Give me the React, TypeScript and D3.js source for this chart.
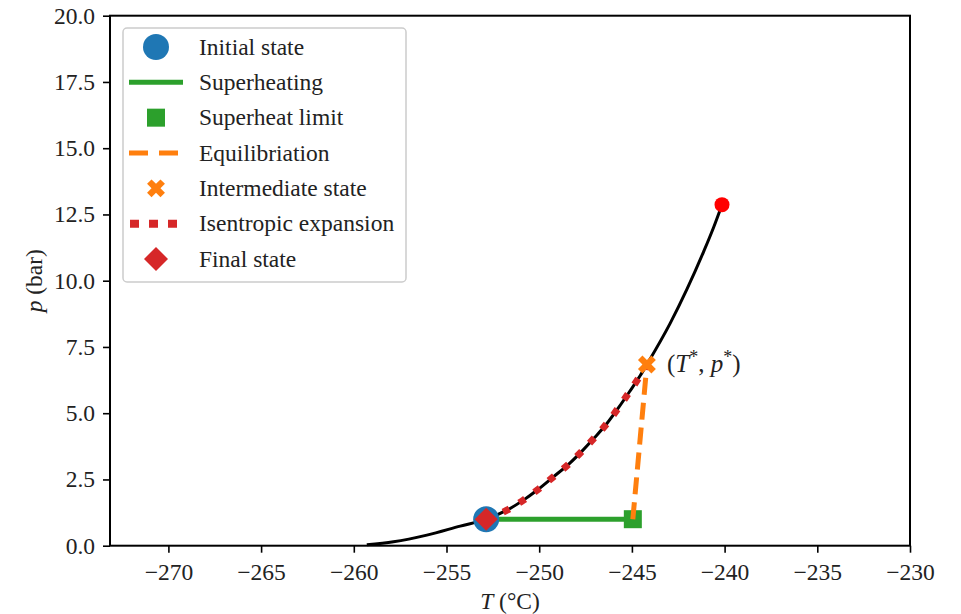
import React, { useEffect, useRef } from 'react';
import * as d3 from 'd3';

// saturation curve (T in °C, p in bar)
const curveT = [-259.3, -257.86, -256.06, -254.26, -252.86, -251.74, -250.85, -250.12, -249.23, -248.42, -247.69, -247.01, -246.35, -245.72, -245.14, -244.55, -244.19, -242.93, -242.03, -241.13, -240.59, -240.14];
const curveP = [0.04, 0.15, 0.4, 0.74, 1.0, 1.34, 1.72, 2.09, 2.6, 3.07, 3.57, 4.08, 4.61, 5.21, 5.8, 6.42, 6.84, 8.4, 9.68, 11.1, 12.02, 12.87];

const initialState = [-252.86, 1.0];
const superheatLimit = [-244.95, 1.0];
const intermediateState = [-244.19, 6.84];
const criticalPoint = [-240.14, 12.87];

const xTicks = [-270, -265, -260, -255, -250, -245, -240, -235, -230];
const yTicks = [0, 2.5, 5, 7.5, 10, 12.5, 15, 17.5, 20];

const legendLabels = ['Initial state', 'Superheating', 'Superheat limit', 'Equilibriation', 'Intermediate state', 'Isentropic expansion', 'Final state'];

const BLUE = '#1f77b4';
const GREEN = '#2ca02c';
const ORANGE = '#ff7f0e';
const RED = '#d62728';
const FONT = '"Liberation Serif", "Times New Roman", serif';

const diamond = (r: number) => `M0,${-r}L${r},0L0,${r}L${-r},0Z`;
const xMarker = d3.symbol().type(d3.symbolCross).size(200)();

const App = () => {
    const svgRef = useRef<SVGSVGElement>(null);

    useEffect(() => {
        const svg = d3.select(svgRef.current);
        svg.selectAll('*').remove();

        const left = 110, right = 910, top = 15.7, bottom = 545.7;
        const x = d3.scaleLinear().domain([-273.15, -230]).range([left, right]);
        const y = d3.scaleLinear().domain([0, 20]).range([bottom, top]);

        const pts = curveT.map((t, i) => [t, curveP[i]]);
        const line = d3.line<number[]>()
            .x(d => x(d[0]))
            .y(d => y(d[1]))
            .curve(d3.curveMonotoneX);

        // axes
        const xAxis = svg.append('g')
            .attr('transform', `translate(0, ${bottom})`)
            .call(d3.axisBottom(x).tickValues(xTicks).tickSize(7).tickSizeOuter(0).tickPadding(11).tickFormat(d3.format('.0f')));
        const yAxis = svg.append('g')
            .attr('transform', `translate(${left}, 0)`)
            .call(d3.axisLeft(y).tickValues(yTicks).tickSize(7).tickSizeOuter(0).tickPadding(8).tickFormat(d3.format('.1f')));
        [xAxis, yAxis].forEach(a => {
            a.select('.domain').remove();
            a.selectAll('line').attr('stroke', '#000').attr('stroke-width', 1.6);
            a.selectAll('text').attr('fill', '#222').style('font-family', FONT).style('font-size', '23.5px');
        });

        // black saturation curve
        svg.append('path')
            .attr('d', line(pts))
            .attr('fill', 'none')
            .attr('stroke', '#000')
            .attr('stroke-width', 3);

        svg.append('circle')
            .attr('cx', x(criticalPoint[0]))
            .attr('cy', y(criticalPoint[1]))
            .attr('r', 7.5)
            .attr('fill', '#ff0000');

        // superheating
        svg.append('line')
            .attr('x1', x(initialState[0])).attr('y1', y(initialState[1]))
            .attr('x2', x(superheatLimit[0])).attr('y2', y(superheatLimit[1]))
            .attr('stroke', GREEN).attr('stroke-width', 5);

        svg.append('rect')
            .attr('x', x(superheatLimit[0]) - 9).attr('y', y(superheatLimit[1]) - 9)
            .attr('width', 18).attr('height', 18)
            .attr('fill', GREEN);

        // equilibriation
        svg.append('line')
            .attr('x1', x(superheatLimit[0])).attr('y1', y(superheatLimit[1]))
            .attr('x2', x(intermediateState[0])).attr('y2', y(intermediateState[1]))
            .attr('stroke', ORANGE).attr('stroke-width', 5)
            .attr('stroke-dasharray', '17 8');

        // isentropic expansion (dotted) along the curve
        const isen = pts.filter(d => d[0] >= initialState[0] && d[0] <= intermediateState[0]);
        svg.append('path')
            .attr('d', line(isen))
            .attr('fill', 'none')
            .attr('stroke', RED)
            .attr('stroke-width', 7)
            .attr('stroke-dasharray', '7 11.5');

        svg.append('path')
            .attr('d', xMarker)
            .attr('transform', `translate(${x(intermediateState[0])}, ${y(intermediateState[1])}) rotate(45)`)
            .attr('fill', ORANGE);

        svg.append('circle')
            .attr('cx', x(initialState[0]))
            .attr('cy', y(initialState[1]))
            .attr('r', 13)
            .attr('fill', BLUE);

        svg.append('path')
            .attr('d', diamond(11.5))
            .attr('transform', `translate(${x(initialState[0])}, ${y(initialState[1])})`)
            .attr('fill', RED);

        // annotation
        const ann = svg.append('text')
            .attr('x', x(intermediateState[0]) + 20)
            .attr('y', y(intermediateState[1]) + 8)
            .attr('fill', '#222')
            .style('font-family', FONT)
            .style('font-size', '25px');
        ann.append('tspan').text('(');
        ann.append('tspan').attr('font-style', 'italic').text('T');
        ann.append('tspan').attr('dy', -9).style('font-size', '18px').text('*');
        ann.append('tspan').attr('dy', 9).text(', ');
        ann.append('tspan').attr('font-style', 'italic').text('p');
        ann.append('tspan').attr('dy', -9).style('font-size', '18px').text('*');
        ann.append('tspan').attr('dy', 9).text(')');

        // frame
        svg.append('rect')
            .attr('x', left).attr('y', top)
            .attr('width', right - left).attr('height', bottom - top)
            .attr('fill', 'none').attr('stroke', '#000').attr('stroke-width', 2);

        // axis labels
        const xl = svg.append('text')
            .attr('x', (left + right) / 2).attr('y', 609)
            .attr('text-anchor', 'middle')
            .attr('fill', '#222')
            .style('font-family', FONT).style('font-size', '23.5px');
        xl.append('tspan').attr('font-style', 'italic').text('T');
        xl.append('tspan').text(' (°C)');

        const yl = svg.append('text')
            .attr('transform', `translate(42, ${(top + bottom) / 2}) rotate(-90)`)
            .attr('text-anchor', 'middle')
            .attr('fill', '#222')
            .style('font-family', FONT).style('font-size', '23.5px');
        yl.append('tspan').attr('font-style', 'italic').text('p');
        yl.append('tspan').text(' (bar)');

        // legend
        const lg = svg.append('g');
        lg.append('rect')
            .attr('x', 123).attr('y', 28).attr('width', 283).attr('height', 254)
            .attr('rx', 4)
            .attr('fill', 'white').attr('fill-opacity', 0.8)
            .attr('stroke', '#ccc').attr('stroke-width', 1.5);
        const rowY = d3.scaleLinear().domain([0, legendLabels.length - 1]).range([47, 259]);
        const hx = 156;
        legendLabels.forEach((label, i) => {
            const cy = rowY(i);
            const row = lg.append('g');
            if (i === 0) row.append('circle').attr('cx', hx).attr('cy', cy).attr('r', 13).attr('fill', BLUE);
            if (i === 1) row.append('line').attr('x1', 129).attr('x2', 183).attr('y1', cy).attr('y2', cy).attr('stroke', GREEN).attr('stroke-width', 5);
            if (i === 2) row.append('rect').attr('x', hx - 9).attr('y', cy - 9).attr('width', 18).attr('height', 18).attr('fill', GREEN);
            if (i === 3) row.append('line').attr('x1', 129).attr('x2', 183).attr('y1', cy).attr('y2', cy).attr('stroke', ORANGE).attr('stroke-width', 5).attr('stroke-dasharray', '19 11');
            if (i === 4) row.append('path').attr('d', xMarker).attr('transform', `translate(${hx}, ${cy}) rotate(45)`).attr('fill', ORANGE);
            if (i === 5) row.append('line').attr('x1', 130).attr('x2', 183).attr('y1', cy).attr('y2', cy).attr('stroke', RED).attr('stroke-width', 8).attr('stroke-dasharray', '9 10');
            if (i === 6) row.append('path').attr('d', diamond(12)).attr('transform', `translate(${hx}, ${cy})`).attr('fill', RED);
            row.append('text')
                .attr('x', 199).attr('y', cy + 7.5)
                .attr('fill', '#222')
                .style('font-family', FONT).style('font-size', '23.5px')
                .text(label);
        });
    }, []);

    return (
        <svg ref={svgRef} width={961} height={614} style={{ position: 'absolute', left: 0, top: 0, background: 'white' }}></svg>
    );
};

export default App;
